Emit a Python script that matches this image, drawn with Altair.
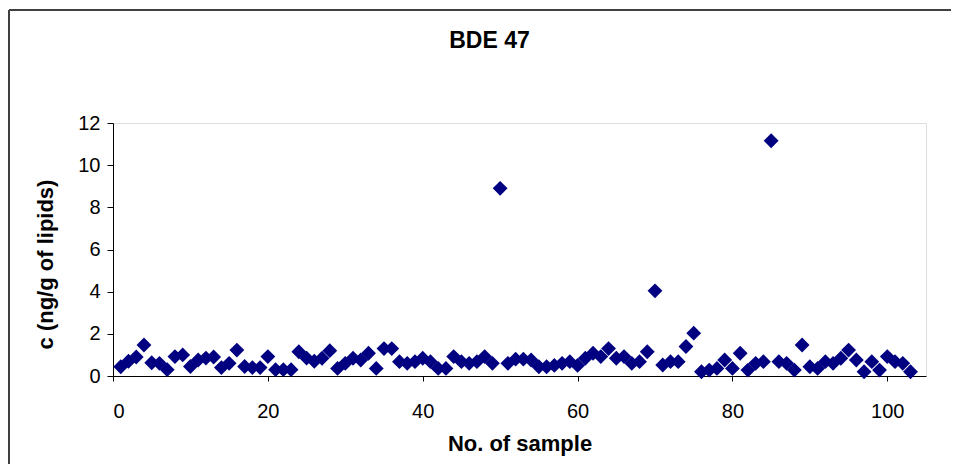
import altair as alt
import pandas as pd

# Sample numbers and BDE 47 concentrations (ng/g of lipids)
samples = list(range(1, 104))
conc = [
    0.44, 0.70, 0.90, 1.47, 0.63, 0.60, 0.30, 0.92, 1.00, 0.45,
    0.76, 0.85, 0.90, 0.40, 0.60, 1.23, 0.45, 0.40, 0.40, 0.92,
    0.30, 0.30, 0.30, 1.15, 0.85, 0.70, 0.84, 1.20, 0.36, 0.60,
    0.84, 0.76, 1.08, 0.36, 1.30, 1.30, 0.68, 0.60, 0.68, 0.84,
    0.68, 0.36, 0.36, 0.92, 0.68, 0.60, 0.68, 0.92, 0.60, 8.90,
    0.60, 0.80, 0.80, 0.76, 0.44, 0.44, 0.50, 0.60, 0.68, 0.50,
    0.84, 1.08, 0.92, 1.30, 0.84, 0.92, 0.60, 0.68, 1.15, 4.04,
    0.52, 0.68, 0.68, 1.40, 2.03, 0.20, 0.28, 0.36, 0.76, 0.36,
    1.08, 0.28, 0.60, 0.68, 11.16, 0.68, 0.60, 0.28, 1.47, 0.44,
    0.36, 0.68, 0.60, 0.84, 1.23, 0.76, 0.20, 0.68, 0.28, 0.92,
    0.68, 0.60, 0.20,
]
x_ticks = [0, 20, 40, 60, 80, 100]
y_ticks = [0, 2, 4, 6, 8, 10, 12]

df = pd.DataFrame({"sample": samples, "c": conc})

FONT = "Liberation Sans"
W, H = 813, 253

points = alt.Chart(df).mark_point(
    shape="diamond", filled=True, color="#000080", size=220, opacity=1
).encode(
    x=alt.X(
        "sample:Q",
        scale=alt.Scale(domain=[0, 105], nice=False, zero=True),
        axis=alt.Axis(
            values=x_ticks, title="No. of sample", grid=False,
            domainColor="#000000", tickColor="#000000", tickSize=5,
            labelFontSize=20, labelFont=FONT, labelColor="#000000",
            labelPadding=20, titleFontSize=22, titleFont=FONT,
            titleFontWeight="bold", titleColor="#000000", titlePadding=12,
        ),
    ),
    y=alt.Y(
        "c:Q",
        scale=alt.Scale(domain=[0, 12], nice=False),
        axis=alt.Axis(
            values=y_ticks, title="c (ng/g of lipids)", grid=False,
            domainColor="#000000", tickColor="#000000", tickSize=6,
            labelFontSize=20, labelFont=FONT, labelColor="#000000",
            labelPadding=7, titleFontSize=22, titleFont=FONT,
            titleFontWeight="bold", titleColor="#000000", titlePadding=20,
            titleY=141,
        ),
    ),
)

# Outer chart-area border (top and left edges only are visible in the reference)
top_edge = alt.Chart(df).mark_rule(stroke="#404040", strokeWidth=2).encode(
    x=alt.value(-104), x2=alt.value(W + 200), y=alt.value(-113)
)
left_edge = alt.Chart(df).mark_rule(stroke="#404040", strokeWidth=2).encode(
    x=alt.value(-104), y=alt.value(-113), y2=alt.value(H + 200)
)

chart = alt.layer(top_edge, left_edge, points).properties(
    width=W,
    height=H,
    title=alt.TitleParams(
        text="BDE 47", fontSize=23, font=FONT, fontWeight="bold", color="#000000",
        anchor="middle", dx=-30, dy=44, offset=0, frame="group",
    ),
    autosize=alt.AutoSizeParams(type="none"),
    padding={"left": 105, "top": 115, "right": 25, "bottom": 88},
).configure_view(stroke=None).configure(background="white")

chart.save("out.html", embed_options={"renderer": "svg", "actions": False})
